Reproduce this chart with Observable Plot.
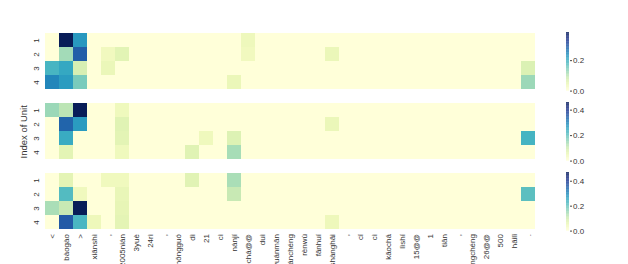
<!DOCTYPE html>
<html><head><meta charset="utf-8">
<script src="https://cdn.jsdelivr.net/npm/d3@7"></script>
<script src="https://cdn.jsdelivr.net/npm/@observablehq/plot@0.6"></script>
<style>
body{margin:0;background:#fff;overflow:hidden}
#chart{position:relative;width:628px;height:264px;overflow:hidden;font-family:"Liberation Sans",Arial,sans-serif}
.p{position:absolute}
.p svg{overflow:visible}
</style></head><body><div id="chart"></div>
<script>
const tokens = ["<","bàogào",">","xiǎnshì",",","2005nián","3yuè","24rì",",","zhōngguó","dì","21","cì","nánjí","kǎochá@@","duì","yuánmǎn","wánchéng","rènwù","fǎnhuí","shànghǎi",",","cǐ","cì","kǎochá","lìshí","15@@","1","tiān",",","hángchéng","26@@","500","hǎilǐ","."];
const units = [1,2,3,4];
const cbTicks = [0, 0.2, 0.4];

// panel 1
const top1 = [0,0.385,0.23,0,0, 0,0,0,0,0, 0,0,0,0,0.04, 0,0,0,0,0, 0,0,0,0,0, 0,0,0,0,0, 0,0,0,0,0];
const top2 = [0,0.12,0.29,0,0.035, 0.06,0,0,0,0, 0,0,0,0,0.035, 0,0,0,0,0, 0.045,0,0,0,0, 0,0,0,0,0, 0,0,0,0,0];
const top3 = [0.19,0.21,0.075,0,0.045, 0,0,0,0,0, 0,0,0,0,0, 0,0,0,0,0, 0,0,0,0,0, 0,0,0,0,0, 0,0,0,0,0.07];
const top4 = [0.25,0.225,0.15,0,0, 0,0,0,0,0, 0,0,0,0.045,0, 0,0,0,0,0, 0,0,0,0,0, 0,0,0,0,0, 0,0,0,0,0.125];
// panel 2
const mid1 = [0.15,0.12,0.46,0,0, 0.045,0,0,0,0, 0,0,0,0,0, 0,0,0,0,0, 0,0,0,0,0, 0,0,0,0,0, 0,0,0,0,0];
const mid2 = [0,0.34,0.27,0,0, 0.075,0,0,0,0, 0,0,0,0,0, 0,0,0,0,0, 0.055,0,0,0,0, 0,0,0,0,0, 0,0,0,0,0];
const mid3 = [0,0.245,0,0,0, 0.07,0,0,0,0, 0,0.045,0,0.08,0, 0,0,0,0,0, 0,0,0,0,0, 0,0,0,0,0, 0,0,0,0,0.23];
const mid4 = [0,0.07,0,0,0, 0.045,0,0,0,0, 0.075,0,0,0.14,0, 0,0,0,0,0, 0,0,0,0,0, 0,0,0,0,0, 0,0,0,0,0];
// panel 3
const bot1 = [0,0.07,0,0,0.045, 0.045,0,0,0,0, 0.075,0,0,0.14,0, 0,0,0,0,0, 0,0,0,0,0, 0,0,0,0,0, 0,0,0,0,0];
const bot2 = [0,0.22,0.045,0,0, 0.06,0,0,0,0, 0,0,0,0.11,0, 0,0,0,0,0, 0,0,0,0,0, 0,0,0,0,0, 0,0,0,0,0.21];
const bot3 = [0.14,0.11,0.47,0,0, 0.065,0,0,0,0, 0,0,0,0,0, 0,0,0,0,0, 0,0,0,0,0, 0,0,0,0,0, 0,0,0,0,0];
const bot4 = [0,0.36,0.23,0.05,0, 0.07,0,0,0,0, 0,0,0,0,0, 0,0,0,0,0, 0.05,0,0,0,0, 0,0,0,0,0, 0,0,0,0,0];

const panels = [
  {rows:[top1,top2,top3,top4], top:31.7},
  {rows:[mid1,mid2,mid3,mid4], top:102, ylabel:"Index of Unit"},
  {rows:[bot1,bot2,bot3,bot4], top:172.3, xaxis:true}
];

const chart = document.getElementById("chart");
const FH = 58.6, MT = 10, X0 = 44, X1 = 535, CBX = 566, CBW = 3;
const textColor = "#333";

function place(el, left, top) {
  const d = document.createElement("div");
  d.className = "p"; d.style.left = left + "px"; d.style.top = top + "px";
  d.appendChild(el); chart.appendChild(d);
}

panels.forEach(p => {
  const data = [];
  p.rows.forEach((r, i) => r.forEach((v, j) => data.push({unit: units[i], tok: j, v})));
  const vmax = d3.max(data, d => d.v);
  const color = {type: "linear", scheme: "YlGnBu", domain: [0, vmax]};
  const mb = p.xaxis ? 60 : 2;
  const marks = [
    Plot.cell(data, {x: "tok", y: "unit", fill: "v", inset: 0, shapeRendering: "crispEdges"}),
    Plot.axisY({tickRotate: -90, tickSize: 0, tickPadding: 6, label: null, fontSize: 8, fill: textColor})
  ];
  if (p.xaxis) marks.push(Plot.axisX({tickRotate: -90, tickSize: 0, tickPadding: 3, label: null, tickFormat: i => tokens[i], fontSize: 8, fill: textColor}));
  if (p.ylabel) marks.push(Plot.text([p.ylabel], {frameAnchor: "left", textAnchor: "middle", dx: -21, rotate: -90, fontSize: 9.5, fill: textColor}));
  const hm = Plot.plot({
    width: 628, height: MT + FH + mb,
    marginLeft: X0, marginRight: 628 - X1, marginTop: MT, marginBottom: mb,
    style: {fontFamily: "Liberation Sans, Arial, sans-serif", background: "transparent", color: textColor},
    x: {type: "band", domain: d3.range(tokens.length), padding: 0, axis: null},
    y: {type: "band", domain: units, padding: 0, axis: null},
    color,
    marks
  });
  place(hm, 0, p.top - MT);

  const N = 80;
  const steps = d3.range(N).map(i => ({a: i * vmax / N, b: (i + 1.05) * vmax / N}));
  const cb = Plot.plot({
    width: CBW + 40, height: MT + FH + 2,
    marginLeft: 0, marginRight: 40, marginTop: MT, marginBottom: 2,
    style: {fontFamily: "Liberation Sans, Arial, sans-serif", background: "transparent", color: textColor},
    x: {axis: null},
    y: {domain: [0, vmax], axis: null},
    color,
    marks: [
      Plot.rect(steps, {y1: "a", y2: d => Math.min(d.b, vmax), fill: d => (d.a + d.b) / 2}),
      Plot.axisY(cbTicks.filter(t => t <= vmax), {anchor: "right", tickSize: 2, tickPadding: 1.5, tickFormat: d3.format(".1f"), label: null, fontSize: 8, fill: textColor, stroke: "#444"})
    ]
  });
  place(cb, CBX, p.top - MT);
});
</script></body></html>
